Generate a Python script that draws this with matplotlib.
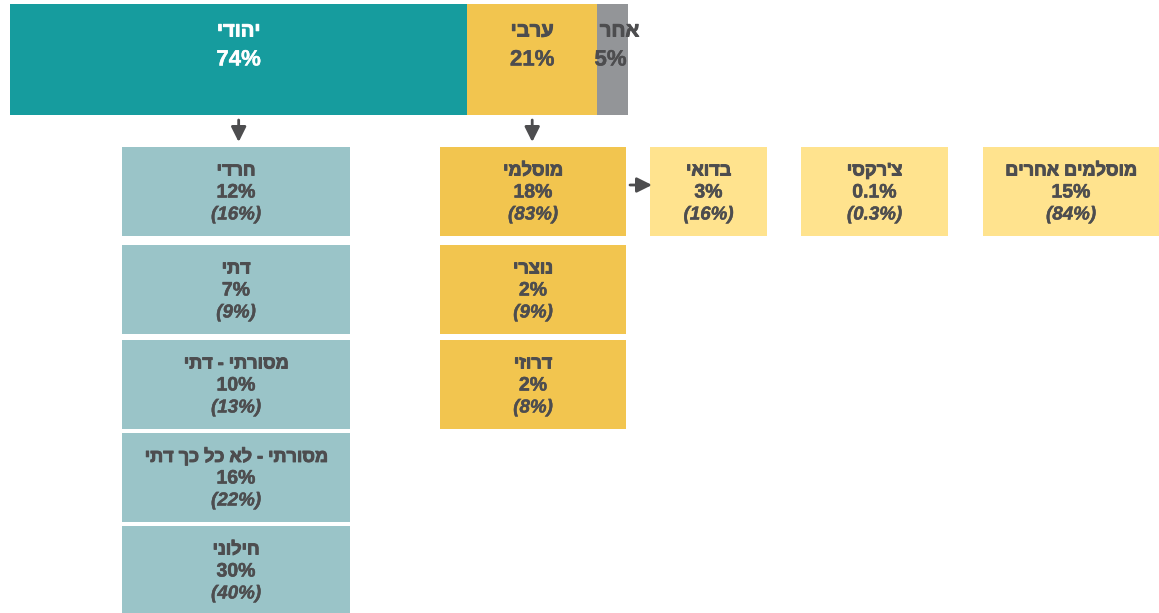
import matplotlib
matplotlib.use("Agg")
import matplotlib.pyplot as plt
from matplotlib.patches import Rectangle
import matplotlib.patheffects as pe

plt.rcParams['font.family'] = ['Liberation Sans', 'DejaVu Sans']

# ---- data ----
top_labels = ["יהודי", "ערבי", "אחר"]
top_shares = [74, 21, 5]

jewish_labels = ["חרדי", "דתי", "מסורתי - דתי", "מסורתי - לא כל כך דתי", "חילוני"]
jewish_total = ["12%", "7%", "10%", "16%", "30%"]
jewish_within = ["(16%)", "(9%)", "(13%)", "(22%)", "(40%)"]

arab_labels = ["מוסלמי", "נוצרי", "דרוזי"]
arab_total = ["18%", "2%", "2%"]
arab_within = ["(83%)", "(9%)", "(8%)"]

muslim_labels = ["בדואי", "צ'רקסי", "מוסלמים אחרים"]
muslim_total = ["3%", "0.1%", "15%"]
muslim_within = ["(16%)", "(0.3%)", "(84%)"]

# ---- style ----
C_TEAL = "#169C9E"
C_YEL = "#F2C54F"
C_GRAY = "#939598"
C_LTEAL = "#9AC4C8"
C_LYEL = "#FFE38E"
C_TXT = "#4D4D4F"


def vis(s):
    # matplotlib has no bidi support: reverse Hebrew for visual order
    return s[::-1]


def bold_fx(c, lw=0.6):
    return [pe.withStroke(linewidth=lw, foreground=c)]


fig = plt.figure(figsize=(11.59, 6.13), dpi=100)
ax = fig.add_axes([0, 0, 1, 1])
ax.set_xlim(0, 1159)
ax.set_ylim(613, 0)
ax.axis("off")

# top bar
x0, total_w, ty, th = 10, 618, 4, 111
top_colors = [C_TEAL, C_YEL, C_GRAY]
top_txt_colors = ["white", C_TXT, C_TXT]
x = x0
centers = []
for lab, sh, col, tc in zip(top_labels, top_shares, top_colors, top_txt_colors):
    w = sh / 100 * total_w
    ax.add_patch(Rectangle((x, ty), w, th, color=col, lw=0))
    cx = x + w / 2
    centers.append(cx)
    lx = cx if sh >= 10 else cx + 7
    px = cx if sh >= 10 else cx - 2
    ax.text(lx, 31, vis(lab), ha="center", va="center", fontsize=14.5,
            fontweight="bold", color=tc, path_effects=bold_fx(tc, 0.7))
    ax.text(px, 60, f"{sh}%", ha="center", va="center", fontsize=16,
            fontweight="bold", color=tc, path_effects=bold_fx(tc, 0.3))
    x += w


def box(xl, yt, w, h, col, name, tot, within):
    ax.add_patch(Rectangle((xl, yt), w, h, color=col, lw=0))
    cx = xl + w / 2
    ax.text(cx, yt + 24, vis(name), ha="center", va="center", fontsize=13,
            fontweight="bold", color=C_TXT, path_effects=bold_fx(C_TXT, 0.7))
    ax.text(cx, yt + 46, tot, ha="center", va="center", fontsize=14,
            fontweight="bold", color=C_TXT, path_effects=bold_fx(C_TXT, 0.4))
    ax.text(cx, yt + 68, within, ha="center", va="center", fontsize=13.5,
            fontweight="bold", fontstyle="italic", color=C_TXT,
            path_effects=bold_fx(C_TXT, 0.3))


jy = [147, 245, 340, 433, 526]
jh = [89, 89, 89, 89, 87]
for i in range(len(jewish_labels)):
    box(122, jy[i], 228, jh[i], C_LTEAL, jewish_labels[i], jewish_total[i], jewish_within[i])

ay = [147, 245, 340]
for i in range(len(arab_labels)):
    box(440, ay[i], 186, 89, C_YEL, arab_labels[i], arab_total[i], arab_within[i])

mx = [650, 801, 983]
mw = [117, 147, 176]
for i in range(len(muslim_labels)):
    box(mx[i], 147, mw[i], 89, C_LYEL, muslim_labels[i], muslim_total[i], muslim_within[i])

# arrows
arrow_kw = dict(arrowstyle="-|>,head_length=0.9,head_width=0.45", color="#4D4D4F",
                lw=2, shrinkA=0, shrinkB=0)
for cx in centers[:2]:
    ax.annotate("", xy=(cx, 142), xytext=(cx, 120), arrowprops=arrow_kw)
ax.annotate("", xy=(652, 185), xytext=(630, 185), arrowprops=arrow_kw)

fig.savefig("out.png", dpi=100)
